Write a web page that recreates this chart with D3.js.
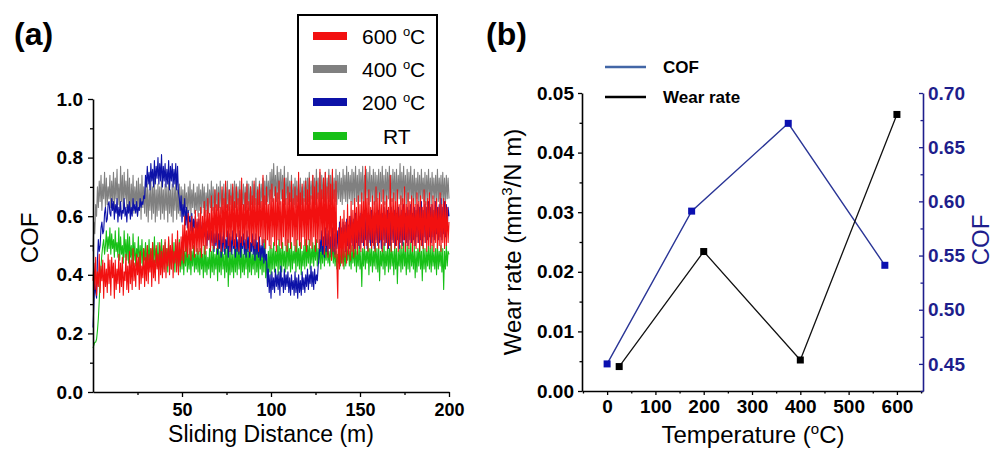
<!DOCTYPE html>
<html>
<head>
<meta charset="utf-8">
<script src="https://cdn.jsdelivr.net/npm/d3@7"></script>
<style>
  html, body { margin: 0; padding: 0; background: #fff; }
  svg { display: block; font-family: Arial, "Liberation Sans", sans-serif; }
</style>
</head>
<body>
<svg id="chart" width="995" height="452"></svg>
<script>
// ---------- Panel (a): COF vs sliding distance (0.5 m sampling, 0..200 m) ----------
const slidingDistance = d3.range(0, 200.25, 0.5);

const cof600 = [
0.38,0.44,0.35,0.46,0.33,0.41,0.36,0.47,0.34,0.43,0.38,0.45,0.32,0.44,0.36,0.42,0.34,0.47,0.37,0.45,
0.33,0.46,0.39,0.44,0.32,0.45,0.35,0.42,0.37,0.47,0.34,0.44,0.36,0.46,0.33,0.41,0.38,0.47,0.35,0.43,
0.34,0.48,0.37,0.45,0.35,0.49,0.38,0.44,0.36,0.47,0.40,0.46,0.35,0.48,0.37,0.43,0.39,0.49,0.36,0.46,
0.38,0.50,0.37,0.47,0.41,0.49,0.36,0.51,0.39,0.45,0.38,0.50,0.42,0.47,0.37,0.51,0.40,0.48,0.39,0.50,
0.41,0.52,0.39,0.49,0.43,0.53,0.40,0.50,0.42,0.54,0.39,0.48,0.44,0.52,0.41,0.55,0.40,0.51,0.43,0.53,
0.45,0.57,0.44,0.60,0.48,0.55,0.46,0.61,0.47,0.58,0.45,0.60,0.49,0.56,0.46,0.62,0.48,0.59,0.47,0.61,
0.48,0.63,0.46,0.60,0.50,0.65,0.47,0.62,0.49,0.66,0.52,0.61,0.48,0.67,0.50,0.63,0.49,0.69,0.51,0.64,
0.49,0.68,0.52,0.63,0.48,0.70,0.51,0.66,0.49,0.72,0.53,0.64,0.50,0.69,0.48,0.67,0.52,0.71,0.50,0.65,
0.49,0.70,0.53,0.66,0.48,0.69,0.51,0.73,0.50,0.64,0.52,0.68,0.49,0.71,0.53,0.65,0.48,0.70,0.51,0.67,
0.50,0.72,0.49,0.66,0.52,0.69,0.48,0.71,0.53,0.65,0.50,0.74,0.51,0.67,0.49,0.70,0.52,0.64,0.50,0.69,
0.49,0.71,0.53,0.66,0.50,0.70,0.48,0.68,0.52,0.72,0.50,0.65,0.49,0.69,0.53,0.73,0.50,0.66,0.48,0.70,
0.51,0.68,0.49,0.72,0.53,0.66,0.50,0.70,0.48,0.67,0.52,0.75,0.50,0.68,0.49,0.71,0.53,0.66,0.50,0.72,
0.48,0.69,0.52,0.73,0.50,0.67,0.49,0.74,0.53,0.70,0.48,0.72,0.51,0.68,0.49,0.76,0.52,0.69,0.50,0.73,
0.47,0.75,0.50,0.70,0.46,0.74,0.49,0.71,0.45,0.76,0.48,0.69,0.46,0.72,0.44,0.32,0.56,0.42,0.60,0.44,
0.59,0.43,0.62,0.46,0.58,0.44,0.64,0.47,0.60,0.45,0.65,0.48,0.62,0.46,0.66,0.49,0.63,0.47,0.67,0.50,
0.64,0.48,0.68,0.51,0.65,0.49,0.77,0.50,0.66,0.48,0.69,0.52,0.63,0.49,0.67,0.50,0.65,0.48,0.70,0.51,
0.66,0.49,0.68,0.52,0.64,0.48,0.69,0.50,0.65,0.51,0.67,0.49,0.63,0.50,0.74,0.48,0.66,0.51,0.68,0.49,
0.65,0.50,0.69,0.48,0.64,0.51,0.67,0.49,0.66,0.52,0.70,0.48,0.64,0.50,0.68,0.49,0.65,0.51,0.67,0.48,
0.66,0.50,0.64,0.49,0.68,0.51,0.65,0.48,0.67,0.50,0.63,0.49,0.69,0.51,0.65,0.48,0.66,0.50,0.68,0.49,
0.64,0.50,0.67,0.48,0.65,0.51,0.66,0.49,0.63,0.50,0.68,0.48,0.64,0.51,0.66,0.49,0.65,0.50,0.63,0.51,
0.58];

const cof400 = [
0.48,0.58,0.54,0.64,0.60,0.70,0.63,0.72,0.65,0.74,0.62,0.71,0.66,0.75,0.63,0.73,0.64,0.70,0.66,0.74,
0.63,0.72,0.65,0.75,0.62,0.73,0.66,0.76,0.64,0.71,0.63,0.77,0.65,0.74,0.62,0.75,0.66,0.72,0.63,0.76,
0.62,0.73,0.60,0.71,0.63,0.74,0.61,0.70,0.64,0.72,0.60,0.73,0.62,0.71,0.59,0.74,0.63,0.70,0.61,0.72,
0.60,0.71,0.58,0.69,0.62,0.72,0.59,0.70,0.61,0.73,0.58,0.69,0.60,0.71,0.62,0.70,0.59,0.72,0.61,0.69,
0.59,0.71,0.62,0.70,0.58,0.72,0.61,0.69,0.60,0.71,0.58,0.70,0.62,0.73,0.59,0.69,0.61,0.71,0.60,0.70,
0.62,0.69,0.60,0.71,0.63,0.68,0.61,0.70,0.62,0.72,0.60,0.69,0.63,0.71,0.61,0.68,0.62,0.70,0.60,0.71,
0.62,0.69,0.61,0.71,0.63,0.70,0.60,0.68,0.62,0.71,0.61,0.69,0.63,0.72,0.62,0.70,0.61,0.69,0.63,0.71,
0.62,0.70,0.63,0.72,0.61,0.69,0.64,0.71,0.62,0.70,0.63,0.72,0.62,0.69,0.64,0.71,0.63,0.70,0.62,0.72,
0.63,0.71,0.64,0.70,0.62,0.72,0.63,0.69,0.64,0.71,0.62,0.70,0.63,0.72,0.64,0.71,0.62,0.70,0.64,0.72,
0.63,0.71,0.64,0.73,0.62,0.70,0.64,0.72,0.63,0.71,0.65,0.73,0.63,0.72,0.64,0.74,0.65,0.72,0.64,0.75,
0.66,0.76,0.65,0.78,0.67,0.74,0.65,0.77,0.66,0.75,0.64,0.76,0.66,0.74,0.65,0.77,0.64,0.73,0.66,0.75,
0.64,0.72,0.65,0.74,0.63,0.71,0.64,0.73,0.63,0.72,0.65,0.71,0.63,0.73,0.64,0.70,0.63,0.72,0.65,0.73,
0.64,0.73,0.65,0.75,0.64,0.72,0.66,0.74,0.65,0.73,0.64,0.76,0.66,0.73,0.65,0.75,0.64,0.74,0.66,0.73,
0.65,0.75,0.64,0.73,0.66,0.76,0.65,0.74,0.64,0.75,0.66,0.73,0.65,0.76,0.64,0.74,0.66,0.75,0.65,0.73,
0.64,0.76,0.66,0.74,0.65,0.77,0.64,0.75,0.66,0.74,0.65,0.76,0.64,0.75,0.66,0.77,0.65,0.74,0.64,0.76,
0.65,0.75,0.66,0.77,0.64,0.74,0.65,0.76,0.66,0.75,0.64,0.77,0.65,0.74,0.66,0.76,0.64,0.75,0.65,0.74,
0.66,0.76,0.64,0.75,0.65,0.77,0.66,0.74,0.64,0.76,0.65,0.75,0.66,0.77,0.64,0.74,0.65,0.76,0.66,0.75,
0.64,0.76,0.65,0.74,0.66,0.78,0.64,0.75,0.65,0.77,0.66,0.74,0.64,0.76,0.65,0.75,0.66,0.77,0.64,0.74,
0.65,0.76,0.64,0.73,0.66,0.75,0.65,0.74,0.64,0.76,0.66,0.73,0.65,0.75,0.64,0.74,0.66,0.76,0.65,0.73,
0.64,0.75,0.66,0.73,0.65,0.74,0.64,0.76,0.65,0.73,0.66,0.74,0.64,0.75,0.65,0.73,0.64,0.74,0.66,0.73,
0.66];

const cof200 = [
0.22,0.30,0.38,0.34,0.32,0.45,0.52,0.48,0.50,0.56,0.58,0.54,0.55,0.61,0.63,0.58,0.59,0.64,0.65,0.61,
0.60,0.66,0.62,0.65,0.59,0.64,0.61,0.66,0.58,0.63,0.60,0.65,0.59,0.62,0.61,0.66,0.60,0.63,0.58,0.64,
0.61,0.65,0.59,0.63,0.60,0.66,0.62,0.64,0.61,0.65,0.60,0.63,0.62,0.66,0.63,0.65,0.64,0.67,0.66,0.74,
0.70,0.77,0.71,0.75,0.69,0.78,0.72,0.76,0.70,0.79,0.71,0.77,0.73,0.80,0.71,0.78,0.72,0.81,0.70,0.77,
0.72,0.78,0.70,0.76,0.71,0.79,0.69,0.77,0.72,0.78,0.70,0.76,0.71,0.78,0.69,0.77,0.68,0.66,0.62,0.67,
0.58,0.64,0.60,0.66,0.57,0.63,0.56,0.62,0.58,0.60,0.55,0.61,0.54,0.59,0.56,0.60,0.53,0.58,0.55,0.59,
0.52,0.58,0.54,0.57,0.51,0.56,0.53,0.58,0.50,0.55,0.52,0.57,0.49,0.55,0.51,0.56,0.48,0.54,0.50,0.56,
0.47,0.54,0.49,0.55,0.46,0.53,0.48,0.56,0.47,0.52,0.49,0.55,0.46,0.54,0.48,0.53,0.47,0.55,0.49,0.52,
0.46,0.54,0.48,0.52,0.47,0.55,0.46,0.53,0.49,0.54,0.47,0.52,0.46,0.55,0.48,0.53,0.46,0.51,0.48,0.54,
0.47,0.52,0.45,0.54,0.47,0.51,0.46,0.53,0.45,0.50,0.46,0.52,0.44,0.49,0.45,0.47,0.36,0.42,0.34,0.40,
0.32,0.41,0.35,0.39,0.34,0.42,0.36,0.40,0.35,0.41,0.33,0.43,0.36,0.39,0.34,0.42,0.35,0.40,0.36,0.41,
0.34,0.39,0.33,0.40,0.35,0.38,0.33,0.41,0.34,0.39,0.32,0.40,0.34,0.38,0.33,0.41,0.35,0.39,0.34,0.40,
0.36,0.42,0.35,0.40,0.37,0.43,0.36,0.41,0.35,0.42,0.37,0.40,0.38,0.43,0.46,0.52,0.48,0.55,0.47,0.53,
0.46,0.56,0.48,0.54,0.47,0.55,0.49,0.53,0.46,0.56,0.48,0.54,0.47,0.57,0.49,0.55,0.48,0.58,0.50,0.56,
0.49,0.58,0.51,0.57,0.48,0.59,0.50,0.57,0.49,0.60,0.51,0.58,0.50,0.59,0.49,0.61,0.51,0.58,0.50,0.60,
0.49,0.61,0.51,0.59,0.50,0.62,0.52,0.60,0.49,0.61,0.51,0.59,0.50,0.62,0.51,0.60,0.49,0.61,0.52,0.60,
0.50,0.62,0.51,0.60,0.49,0.61,0.52,0.63,0.50,0.60,0.51,0.62,0.49,0.61,0.50,0.63,0.52,0.60,0.51,0.62,
0.50,0.61,0.52,0.63,0.49,0.60,0.51,0.62,0.50,0.64,0.52,0.61,0.51,0.63,0.50,0.62,0.52,0.64,0.51,0.61,
0.52,0.63,0.50,0.62,0.53,0.64,0.51,0.63,0.52,0.65,0.50,0.62,0.53,0.64,0.51,0.63,0.52,0.65,0.53,0.63,
0.51,0.64,0.53,0.62,0.52,0.65,0.54,0.63,0.52,0.64,0.53,0.66,0.52,0.63,0.54,0.65,0.53,0.64,0.55,0.63,
0.60];

const cofRT = [
0.15,0.16,0.17,0.17,0.18,0.21,0.25,0.31,0.38,0.43,0.47,0.50,0.52,0.47,0.50,0.55,0.48,0.53,0.49,0.56,
0.47,0.54,0.49,0.52,0.46,0.55,0.48,0.51,0.46,0.56,0.45,0.53,0.47,0.50,0.44,0.55,0.46,0.52,0.45,0.54,
0.44,0.53,0.46,0.50,0.43,0.54,0.45,0.51,0.43,0.49,0.46,0.53,0.42,0.50,0.44,0.52,0.43,0.49,0.45,0.51,
0.42,0.50,0.44,0.52,0.43,0.49,0.45,0.51,0.42,0.53,0.44,0.49,0.43,0.51,0.42,0.50,0.45,0.52,0.43,0.49,
0.42,0.51,0.44,0.49,0.41,0.52,0.43,0.50,0.42,0.48,0.44,0.51,0.41,0.50,0.43,0.49,0.42,0.52,0.41,0.48,
0.42,0.49,0.40,0.48,0.43,0.50,0.41,0.47,0.42,0.49,0.40,0.48,0.43,0.50,0.41,0.47,0.42,0.49,0.41,0.48,
0.40,0.49,0.42,0.47,0.39,0.50,0.41,0.48,0.40,0.46,0.42,0.49,0.39,0.48,0.41,0.50,0.40,0.47,0.42,0.49,
0.38,0.50,0.41,0.48,0.40,0.51,0.42,0.47,0.39,0.49,0.41,0.50,0.36,0.48,0.40,0.49,0.41,0.47,0.39,0.50,
0.41,0.49,0.40,0.51,0.42,0.48,0.39,0.50,0.41,0.47,0.40,0.49,0.42,0.51,0.39,0.48,0.41,0.50,0.40,0.47,
0.42,0.49,0.40,0.51,0.41,0.48,0.39,0.50,0.42,0.47,0.40,0.49,0.41,0.52,0.39,0.47,0.37,0.48,0.41,0.50,
0.40,0.49,0.42,0.51,0.41,0.48,0.43,0.50,0.40,0.52,0.42,0.49,0.41,0.51,0.43,0.48,0.41,0.50,0.42,0.52,
0.43,0.49,0.41,0.51,0.42,0.48,0.44,0.50,0.41,0.52,0.43,0.49,0.42,0.51,0.40,0.48,0.43,0.50,0.42,0.52,
0.43,0.50,0.44,0.52,0.42,0.49,0.44,0.51,0.43,0.50,0.45,0.52,0.43,0.49,0.44,0.51,0.42,0.50,0.44,0.52,
0.43,0.49,0.45,0.51,0.44,0.48,0.43,0.50,0.45,0.52,0.44,0.49,0.43,0.48,0.42,0.47,0.44,0.49,0.43,0.48,
0.44,0.50,0.42,0.48,0.43,0.49,0.45,0.51,0.43,0.48,0.42,0.50,0.44,0.49,0.43,0.51,0.41,0.48,0.43,0.50,
0.42,0.48,0.36,0.49,0.43,0.50,0.42,0.48,0.44,0.51,0.40,0.49,0.43,0.50,0.41,0.48,0.43,0.51,0.42,0.49,
0.41,0.50,0.38,0.48,0.43,0.49,0.42,0.51,0.40,0.48,0.43,0.50,0.41,0.49,0.42,0.51,0.43,0.48,0.40,0.50,
0.42,0.49,0.37,0.48,0.43,0.50,0.41,0.49,0.42,0.51,0.43,0.48,0.40,0.50,0.42,0.49,0.41,0.51,0.43,0.48,
0.42,0.50,0.39,0.48,0.41,0.49,0.43,0.51,0.42,0.48,0.38,0.50,0.42,0.49,0.41,0.48,0.43,0.50,0.42,0.49,
0.41,0.50,0.43,0.48,0.42,0.49,0.40,0.51,0.42,0.48,0.43,0.50,0.41,0.49,0.35,0.48,0.42,0.50,0.43,0.48,
0.47];

const legendTemps = ["600", "400", "200", "RT"];
const seriesColors = ["#f21010", "#808080", "#0d12a8", "#17c017"];
const distanceTicks = [50, 100, 150, 200];
const distanceMinorTicks = [25, 75, 125, 175];
const cofTicks = [0, 0.2, 0.4, 0.6, 0.8, 1.0];
const cofMinorTicks = [0.1, 0.3, 0.5, 0.7, 0.9];

// ---------- Panel (b): wear rate and COF vs temperature ----------
const wearTemps = [25, 200, 400, 600];
const wearRates = [0.0041, 0.0234, 0.0052, 0.0464];
const cofTemps = [0, 175, 375, 575];
const cofMeans = [0.450, 0.591, 0.672, 0.541];
const tempTicks = [0, 100, 200, 300, 400, 500, 600];
const tempMinorTicks = [-50, 50, 150, 250, 350, 450, 550, 650];
const wearTicks = [0, 0.01, 0.02, 0.03, 0.04, 0.05];
const wearMinorTicks = [0.005, 0.015, 0.025, 0.035, 0.045];
const cofRightTicks = [0.45, 0.50, 0.55, 0.60, 0.65, 0.70];
const cofRightMinorTicks = [0.425, 0.475, 0.525, 0.575, 0.625, 0.675];

const svg = d3.select("#chart");
const navy = "#1e1e8c";

function styleAxis(g, color, fontSize) {
  g.selectAll("path.domain").attr("stroke", color).attr("stroke-width", 1.6);
  g.selectAll(".tick line").attr("stroke", color).attr("stroke-width", 1.3);
  g.selectAll(".tick text").attr("fill", color).attr("font-size", fontSize)
    .attr("font-weight", "bold").attr("font-family", "Arial, 'Liberation Sans', sans-serif");
}
function minor(g) {
  g.select("path.domain").remove();
  g.selectAll(".tick text").remove();
}

// ===== Panel (a) =====
const xA = d3.scaleLinear().domain([0, 200]).range([93, 449]);
const yA = d3.scaleLinear().domain([0, 1]).range([392, 99]);

const seriesData = [cof400, cofRT, cof200, cof600];
const seriesColorDraw = [seriesColors[1], seriesColors[3], seriesColors[2], seriesColors[0]];
const lineA = d3.line().x((d, i) => xA(slidingDistance[i])).y(d => yA(d));
seriesData.forEach((s, k) => {
  svg.append("path").datum(s.slice(0, slidingDistance.length)).attr("d", lineA)
    .attr("fill", "none").attr("stroke", seriesColorDraw[k])
    .attr("stroke-width", 1.1).attr("stroke-linejoin", "round");
});

// axes (a)
svg.append("g").attr("transform", "translate(0,392)")
  .call(d3.axisBottom(xA).tickValues(distanceMinorTicks).tickSize(3)).call(minor)
  .call(g => styleAxis(g, "#000", 18));
svg.append("g").attr("transform", "translate(0,392)")
  .call(d3.axisBottom(xA).tickValues(distanceTicks).tickSize(5).tickSizeOuter(0).tickPadding(6).tickFormat(d3.format("d")))
  .call(g => styleAxis(g, "#000", 18));
svg.append("g").attr("transform", "translate(93,0)")
  .call(d3.axisLeft(yA).tickValues(cofMinorTicks).tickSize(3)).call(minor)
  .call(g => styleAxis(g, "#000", 19));
svg.append("g").attr("transform", "translate(93,0)")
  .call(d3.axisLeft(yA).tickValues(cofTicks).tickSize(5).tickSizeOuter(0).tickPadding(5).tickFormat(d3.format(".1f")))
  .call(g => styleAxis(g, "#000", 19));

svg.append("text").attr("transform", "translate(38,238) rotate(-90)")
  .attr("text-anchor", "middle").attr("font-size", 24).text("COF");
svg.append("text").attr("x", 271).attr("y", 442)
  .attr("text-anchor", "middle").attr("font-size", 23).text("Sliding Distance (m)");
svg.append("text").attr("x", 14).attr("y", 45)
  .attr("font-size", 32).attr("font-weight", "bold").text("(a)");

// legend (a)
svg.append("rect").attr("x", 298).attr("y", 15).attr("width", 139).attr("height", 140)
  .attr("fill", "#fff").attr("stroke", "#000").attr("stroke-width", 2);
const legY = [36, 69, 102, 136];
legendTemps.forEach((t, i) => {
  svg.append("line").attr("x1", 313).attr("x2", 347).attr("y1", legY[i]).attr("y2", legY[i])
    .attr("stroke", seriesColors[i]).attr("stroke-width", 8);
  const tx = svg.append("text").attr("x", t === "RT" ? 383 : 362).attr("y", legY[i] + 8)
    .attr("font-size", 21);
  if (t === "RT") {
    tx.text("RT");
  } else {
    tx.append("tspan").text(t + " ");
    tx.append("tspan").attr("font-size", 13).attr("dy", -8).text("o");
    tx.append("tspan").attr("dy", 8).text("C");
  }
});

// ===== Panel (b) =====
const xB = d3.scaleLinear().domain([-52, 654]).range([582, 923]);
const yW = d3.scaleLinear().domain([0, 0.05]).range([391, 93]);
const yC = d3.scaleLinear().domain([0.425, 0.70]).range([391, 93]);

svg.append("g").attr("transform", "translate(0,391)")
  .call(d3.axisBottom(xB).tickValues(tempMinorTicks).tickSize(2.5)).call(minor)
  .call(g => styleAxis(g, "#000", 19));
svg.append("g").attr("transform", "translate(0,391)")
  .call(d3.axisBottom(xB).tickValues(tempTicks).tickSize(4).tickSizeOuter(0).tickPadding(5).tickFormat(d3.format("d")))
  .call(g => styleAxis(g, "#000", 19));
svg.append("g").attr("transform", "translate(582,0)")
  .call(d3.axisLeft(yW).tickValues(wearMinorTicks).tickSize(2.5)).call(minor)
  .call(g => styleAxis(g, "#000", 19));
svg.append("g").attr("transform", "translate(582,0)")
  .call(d3.axisLeft(yW).tickValues(wearTicks).tickSize(4).tickSizeOuter(0).tickPadding(4).tickFormat(d3.format(".2f")))
  .call(g => styleAxis(g, "#000", 19));
svg.append("g").attr("transform", "translate(923,0)")
  .call(d3.axisRight(yC).tickValues(cofRightMinorTicks).tickSize(-2.5)).call(minor)
  .call(g => styleAxis(g, navy, 19));
svg.append("g").attr("transform", "translate(923,0)")
  .call(d3.axisRight(yC).tickValues(cofRightTicks).tickSize(-4).tickSizeOuter(0).tickPadding(5).tickFormat(d3.format(".2f")))
  .call(g => styleAxis(g, navy, 19));

// lines (b)
const wearPts = wearTemps.map((t, i) => [xB(t), yW(wearRates[i])]);
const cofPts = cofTemps.map((t, i) => [xB(t), yC(cofMeans[i])]);
svg.append("path").attr("d", d3.line()(cofPts)).attr("fill", "none")
  .attr("stroke", "#2a3596").attr("stroke-width", 1.4);
svg.append("path").attr("d", d3.line()(wearPts)).attr("fill", "none")
  .attr("stroke", "#111").attr("stroke-width", 1.3);
svg.selectAll("rect.cofpt").data(cofPts).enter().append("rect")
  .attr("x", d => d[0] - 3.5).attr("y", d => d[1] - 3.5).attr("width", 7).attr("height", 7)
  .attr("fill", "#0b10b0");
svg.selectAll("rect.wearpt").data(wearPts).enter().append("rect")
  .attr("x", d => d[0] - 3.5).attr("y", d => d[1] - 3.5).attr("width", 7).attr("height", 7)
  .attr("fill", "#000");

// legend (b)
svg.append("line").attr("x1", 605).attr("x2", 646).attr("y1", 67).attr("y2", 67)
  .attr("stroke", "#4266a6").attr("stroke-width", 2.5);
svg.append("text").attr("x", 663).attr("y", 73).attr("font-size", 17).attr("font-weight", "bold").text("COF");
svg.append("line").attr("x1", 605).attr("x2", 646).attr("y1", 97).attr("y2", 97)
  .attr("stroke", "#000").attr("stroke-width", 2.5);
svg.append("text").attr("x", 663).attr("y", 103).attr("font-size", 17).attr("font-weight", "bold").text("Wear rate");

// titles (b)
const wl = svg.append("text").attr("transform", "translate(521,242) rotate(-90)")
  .attr("text-anchor", "middle").attr("font-size", 24);
wl.append("tspan").text("Wear rate (mm");
wl.append("tspan").attr("font-size", 15).attr("dy", -9).text("3");
wl.append("tspan").attr("dy", 9).text("/N m)");

svg.append("text").attr("transform", "translate(989,240) rotate(-90)")
  .attr("text-anchor", "middle").attr("font-size", 24).attr("fill", navy).text("COF");

const tl = svg.append("text").attr("x", 753).attr("y", 443)
  .attr("text-anchor", "middle").attr("font-size", 24);
tl.append("tspan").text("Temperature (");
tl.append("tspan").attr("font-size", 15).attr("dy", -9).text("o");
tl.append("tspan").attr("dy", 9).text("C)");

svg.append("text").attr("x", 486).attr("y", 45)
  .attr("font-size", 32).attr("font-weight", "bold").text("(b)");
</script>
</body>
</html>
